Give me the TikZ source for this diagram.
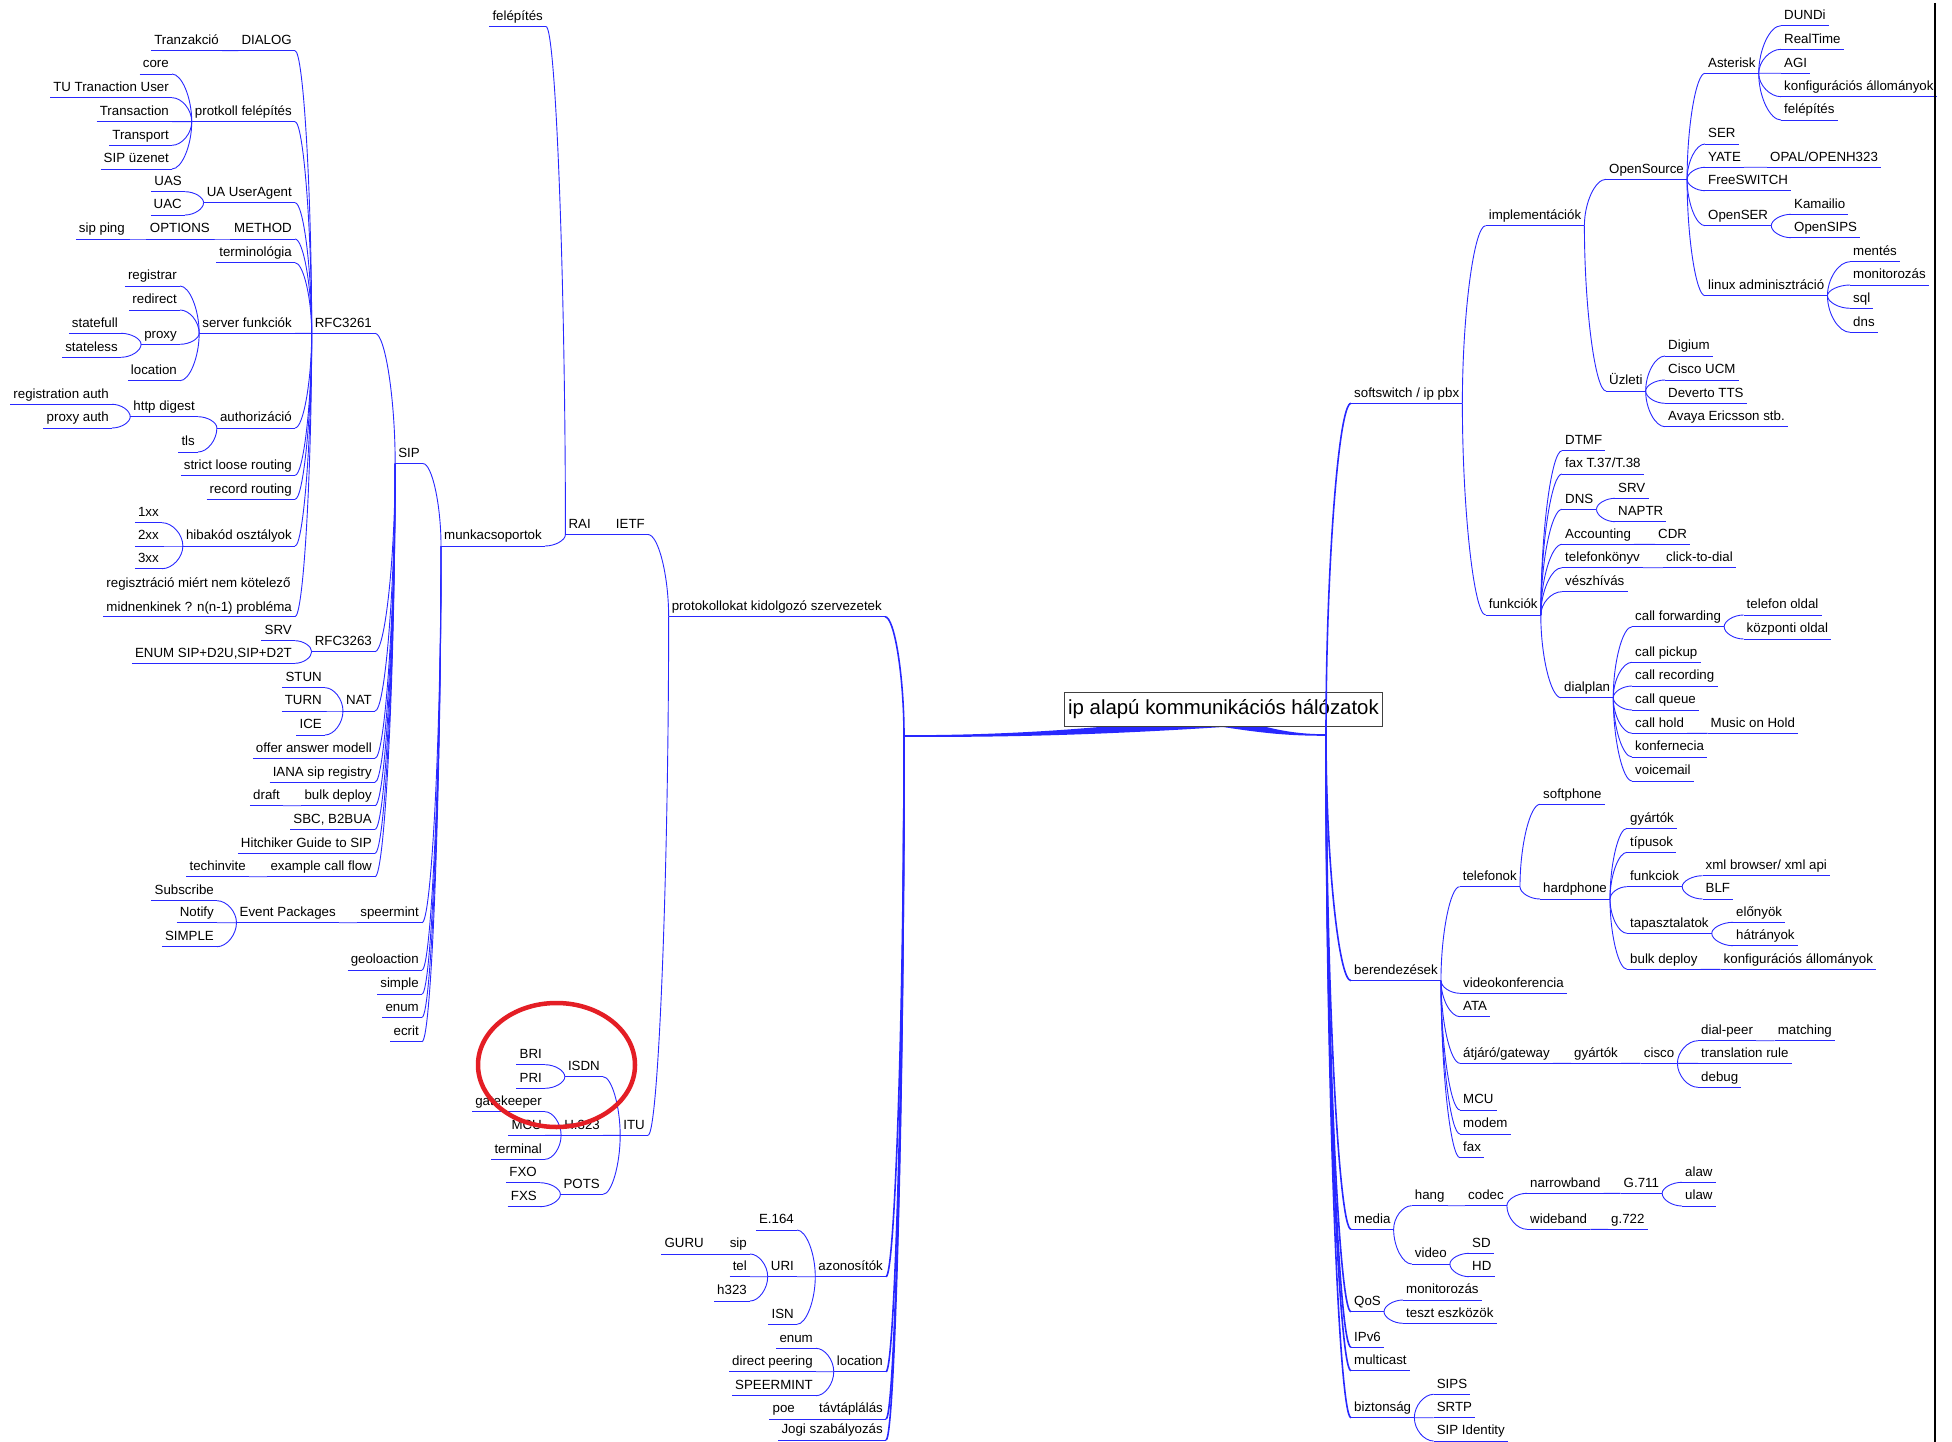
\documentclass[tikz,border=0pt]{standalone}
\usepackage{fontspec}
\setmainfont{Liberation Sans}
\usetikzlibrary{calc}
\definecolor{ebl}{RGB}{40,40,255}
\definecolor{markred}{RGB}{228,30,37}

\begin{document}
\begin{tikzpicture}[x=1pt,y=-1pt,font=\fontsize{13.3}{16}\selectfont,
    uline/.style={draw=ebl,line width=0.9pt},
    lnk/.style={draw=ebl,line width=0.9pt},
    trunk/.style={draw=ebl,line width=1.6pt},
    lab/.style={inner xsep=3pt,inner ysep=2.5pt,
        append after command={(\tikzlastnode.south west) edge[uline] (\tikzlastnode.south east)}},
    ln/.style={lab,anchor=south east,text height=10pt,text depth=3.5pt},
    rn/.style={lab,anchor=south west,text height=10pt,text depth=3.5pt}]

    \useasboundingbox (0,0) rectangle (1952,1442);

    % root edges
    \coordinate (ljn) at (904,736);
    \coordinate (rjn) at (1326,735);
    \fill[ebl] (904,736.8) .. controls (1000,737.5) and (1100,735) .. (1223,727)
        -- (1223,713) .. controls (1100,730) and (1000,735.2) .. (904,735.2) -- cycle;
    \fill[ebl] (1326,735.8) .. controls (1290,735.8) and (1265,733.5) .. (1223,727)
        -- (1223,714) .. controls (1265,728) and (1290,734.2) .. (1326,734.2) -- cycle;
    \node[draw=black!75,fill=white,line width=0.9pt,font=\fontsize{20.4}{24}\selectfont,
        inner xsep=4pt,minimum height=34pt,text height=14.5pt,text depth=4.5pt] (root) at (1223.5,709) {ip alapú kommunikációs hálózatok};

    % left side
    \node[ln] (dlg) at (295,50.7) {DIALOG};
    \node[ln] (trz) at (222,50.7) {Tranzakció};
    \node[ln] (pfe) at (295,121.7) {protkoll felépítés};
    \node[ln] (core) at (172,74) {core};
    \node[ln] (tuu) at (172,97.7) {TU Tranaction User};
    \node[ln] (trn) at (172,121.7) {Transaction};
    \node[ln] (trp) at (172,145.3) {Transport};
    \node[ln] (siu) at (172,169) {SIP üzenet};
    \node[ln] (uag) at (295,202.7) {UA UserAgent};
    \node[ln] (uas) at (185,191.7) {UAS};
    \node[ln] (uac) at (185,215) {UAC};
    \node[ln] (mth) at (295,239) {METHOD};
    \node[ln] (opt) at (213,239) {OPTIONS};
    \node[ln] (spg) at (128,239) {sip ping};
    \node[ln] (trm) at (295,262.7) {terminológia};
    \node[ln] (sfk) at (295,333.3) {server funkciók};
    \node[ln] (rgs) at (180,286) {registrar};
    \node[ln] (rdr) at (180,310) {redirect};
    \node[ln] (prx) at (180,344.3) {proxy};
    \node[ln] (lcn) at (180,380.7) {location};
    \node[ln] (stf) at (121,333.3) {statefull};
    \node[ln] (stl) at (121,357.3) {stateless};
    \node[ln] (ath) at (295,428) {authorizáció};
    \node[ln] (htd) at (198,416.7) {http digest};
    \node[ln] (tls) at (198,452) {tls};
    \node[ln] (rga) at (112,404.3) {registration auth};
    \node[ln] (pra) at (112,428) {proxy auth};
    \node[ln] (slr) at (295,475.3) {strict loose routing};
    \node[ln] (rcr) at (295,499.3) {record routing};
    \node[ln] (hko) at (295,546) {hibakód osztályok};
    \node[ln] (x1) at (162,522.7) {1xx};
    \node[ln] (x2) at (162,546) {2xx};
    \node[ln] (x3) at (162,568.7) {3xx};
    \node[lab,anchor=south east,align=left,font=\fontsize{13.3}{23.3}\selectfont] (rmn) at (295,616.7)
        {regisztráció miért nem kötelező\\midnenkinek ? n(n-1) probléma};
    \node[ln] (rfa) at (375,333.3) {RFC3261};
    \node[ln] (rfb) at (375,651.7) {RFC3263};
    \node[ln] (srva) at (295,640.7) {SRV};
    \node[ln] (enm) at (295,663.3) {ENUM SIP+D2U,SIP+D2T};
    \node[ln] (nat) at (375,711) {NAT};
    \node[ln] (stun) at (325,687.7) {STUN};
    \node[ln] (turn) at (325,711) {TURN};
    \node[ln] (ice) at (325,735) {ICE};
    \node[ln] (oam) at (375,758.3) {offer answer modell};
    \node[ln] (ian) at (375,782.3) {IANA sip registry};
    \node[ln] (bdp) at (375,805.7) {bulk deploy};
    \node[ln] (drf) at (283,805.7) {draft};
    \node[ln] (sbc) at (375,829.3) {SBC, B2BUA};
    \node[ln] (hgs) at (375,853.3) {Hitchiker Guide to SIP};
    \node[ln] (ecf) at (375,876.7) {example call flow};
    \node[ln] (tch) at (249,876.7) {techinvite};
    \node[ln] (sip) at (423,463.6) {SIP};
    \node[ln] (spm) at (422,922.7) {speermint};
    \node[ln] (evp) at (339,922.7) {Event Packages};
    \node[ln] (sbs) at (217,900.7) {Subscribe};
    \node[ln] (ntf) at (217,922.7) {Notify};
    \node[ln] (smp) at (217,946.7) {SIMPLE};
    \node[ln] (geo) at (422,970) {geoloaction};
    \node[ln] (simp) at (422,994) {simple};
    \node[ln] (enu) at (422,1017.3) {enum};
    \node[ln] (ecr) at (422,1041.7) {ecrit};
    \node[ln] (mcs) at (545,546) {munkacsoportok};
    \node[ln] (fel) at (546,26.5) {felépítés};
    \node[ln] (rai) at (594,534.5) {RAI};
    \node[ln] (ietf) at (648,534.5) {IETF};
    \node[ln] (pks) at (885,616.7) {protokollokat kidolgozó szervezetek};
    \node[ln] (itu) at (648,1135.3) {ITU};
    \node[ln] (isdn) at (603,1076.7) {ISDN};
    \node[ln] (hxx) at (603,1135.3) {H.323};
    \node[ln] (pots) at (603,1194.3) {POTS};
    \node[ln] (bri) at (545,1064.7) {BRI};
    \node[ln] (pri) at (545,1088.3) {PRI};
    \node[ln] (gk) at (545,1111.7) {gatekeeper};
    \node[ln] (mcua) at (545,1135.3) {MCU};
    \node[ln] (trml) at (545,1159.3) {terminal};
    \node[ln] (fxo) at (540,1182.7) {FXO};
    \node[ln] (fxs) at (540,1206.7) {FXS};
    \node[ln] (azo) at (886,1276.7) {azonosítók};
    \node[ln] (e164) at (797,1230) {E.164};
    \node[ln] (uri) at (797,1276.7) {URI};
    \node[ln] (isn) at (797,1324.3) {ISN};
    \node[ln] (usip) at (750,1254) {sip};
    \node[ln] (utel) at (750,1276.7) {tel};
    \node[ln] (uhx) at (750,1301) {h323};
    \node[ln] (guru) at (707,1254) {GURU};
    \node[ln] (loca) at (886,1371.7) {location};
    \node[ln] (lenm) at (816,1348.3) {enum};
    \node[ln] (dpe) at (816,1371.7) {direct peering};
    \node[ln] (spmt) at (816,1395.7) {SPEERMINT};
    \node[ln] (tvt) at (886,1419) {távtáplálás};
    \node[ln] (poe) at (798,1419) {poe};
    \node[ln] (jogi) at (886,1440) {Jogi szabályozás};

    % right side
    \node[rn] (ssw) at (1351,403.3) {softswitch / ip pbx};
    \node[rn] (impl) at (1485.6,225.7) {implementációk};
    \node[rn] (osrc) at (1606,179.3) {OpenSource};
    \node[rn] (ast) at (1705,73.3) {Asterisk};
    \node[rn] (dundi) at (1781,25.7) {DUNDi};
    \node[rn] (rtm) at (1781,49.3) {RealTime};
    \node[rn] (agi) at (1781,73.3) {AGI};
    \node[rn] (kfa) at (1781,96.7) {konfigurációs állományok};
    \node[rn] (afel) at (1781,120) {felépítés};
    \node[rn] (ser) at (1705,144) {SER};
    \node[rn] (yate) at (1705,167.3) {YATE};
    \node[rn] (opal) at (1767,167.3) {OPAL/OPENH323};
    \node[rn] (fsw) at (1705,190.7) {FreeSWITCH};
    \node[rn] (oser) at (1705,225.7) {OpenSER};
    \node[rn] (kam) at (1791,214.3) {Kamailio};
    \node[rn] (osip) at (1791,237.7) {OpenSIPS};
    \node[rn] (lnx) at (1705,295.7) {linux adminisztráció};
    \node[rn] (ment) at (1850,261.7) {mentés};
    \node[rn] (mon) at (1850,285) {monitorozás};
    \node[rn] (sql) at (1850,308.3) {sql};
    \node[rn] (dns) at (1850,332.3) {dns};
    \node[rn] (uzl) at (1606,391) {Üzleti};
    \node[rn] (dig) at (1665,356) {Digium};
    \node[rn] (cucm) at (1665,380) {Cisco UCM};
    \node[rn] (dtts) at (1665,403.3) {Deverto TTS};
    \node[rn] (avy) at (1665,426.7) {Avaya Ericsson stb.};
    \node[rn] (fnk) at (1485.6,615) {funkciók};
    \node[rn] (dtmf) at (1562,450.7) {DTMF};
    \node[rn] (fax) at (1562,474) {fax T.37/T.38};
    \node[rn] (dnsb) at (1562,509.3) {DNS};
    \node[rn] (srvb) at (1615,498.3) {SRV};
    \node[rn] (naptr) at (1615,521.7) {NAPTR};
    \node[rn] (acc) at (1562,544.3) {Accounting};
    \node[rn] (cdr) at (1655,544.3) {CDR};
    \node[rn] (tkv) at (1562,567.7) {telefonkönyv};
    \node[rn] (ctd) at (1663,567.7) {click-to-dial};
    \node[rn] (vsz) at (1562,591.7) {vészhívás};
    \node[rn] (dpl) at (1561,697.7) {dialplan};
    \node[rn] (cfw) at (1632,626.7) {call forwarding};
    \node[rn] (tol) at (1743.5,615) {telefon oldal};
    \node[rn] (kol) at (1743.5,639) {központi oldal};
    \node[rn] (cpk) at (1632,662.3) {call pickup};
    \node[rn] (crc) at (1632,686) {call recording};
    \node[rn] (cqu) at (1632,710) {call queue};
    \node[rn] (chd) at (1632,733.3) {call hold};
    \node[rn] (moh) at (1707.5,733.3) {Music on Hold};
    \node[rn] (knf) at (1632,757) {konfernecia};
    \node[rn] (vml) at (1632,781) {voicemail};
    \node[rn] (ber) at (1351,980.7) {berendezések};
    \node[rn] (tfn) at (1459.6,886.7) {telefonok};
    \node[rn] (sfp) at (1540,804.3) {softphone};
    \node[rn] (hdp) at (1540,899) {hardphone};
    \node[rn] (gyt) at (1627,828.3) {gyártók};
    \node[rn] (tip) at (1627,852.3) {típusok};
    \node[rn] (fkc) at (1627,886.7) {funkciok};
    \node[rn] (xml) at (1702.5,875.7) {xml browser/ xml api};
    \node[rn] (blf) at (1702.5,899) {BLF};
    \node[rn] (tap) at (1627,933.3) {tapasztalatok};
    \node[rn] (elo) at (1733,922.3) {előnyök};
    \node[rn] (hat) at (1733,945.7) {hátrányok};
    \node[rn] (bdpb) at (1627,969.3) {bulk deploy};
    \node[rn] (kfb) at (1720.5,969.3) {konfigurációs állományok};
    \node[rn] (vcf) at (1460,993.3) {videokonferencia};
    \node[rn] (ata) at (1460,1016.7) {ATA};
    \node[rn] (gw) at (1460,1063.3) {átjáró/gateway};
    \node[rn] (gytb) at (1571,1063.3) {gyártók};
    \node[rn] (csc) at (1640.7,1063.3) {cisco};
    \node[rn] (dpr) at (1698,1040.7) {dial-peer};
    \node[rn] (mtc) at (1774.7,1040.7) {matching};
    \node[rn] (trl) at (1698,1063.3) {translation rule};
    \node[rn] (dbg) at (1698,1087.3) {debug};
    \node[rn] (mcub) at (1460,1110) {MCU};
    \node[rn] (mdm) at (1460,1134) {modem};
    \node[rn] (faxb) at (1460,1157.7) {fax};
    \node[rn] (med) at (1351,1229.3) {media};
    \node[rn] (hang) at (1411.7,1205.7) {hang};
    \node[rn] (cdc) at (1465,1205.7) {codec};
    \node[rn] (nb) at (1527,1193.3) {narrowband};
    \node[rn] (g711) at (1620.5,1193.3) {G.711};
    \node[rn] (alaw) at (1682,1182.3) {alaw};
    \node[rn] (ulaw) at (1682,1206) {ulaw};
    \node[rn] (wb) at (1527,1229.3) {wideband};
    \node[rn] (g722) at (1608,1229.3) {g.722};
    \node[rn] (vid) at (1411.7,1264) {video};
    \node[rn] (sd) at (1469,1253.3) {SD};
    \node[rn] (hd) at (1469,1276.7) {HD};
    \node[rn] (qos) at (1351,1311.7) {QoS};
    \node[rn] (mnt) at (1403,1300) {monitorozás};
    \node[rn] (tsz) at (1403,1323.3) {teszt eszközök};
    \node[rn] (ipv) at (1351,1347.3) {IPv6};
    \node[rn] (mct) at (1351,1370.7) {multicast};
    \node[rn] (bzt) at (1351,1417.7) {biztonság};
    \node[rn] (sips) at (1433.6,1394.3) {SIPS};
    \node[rn] (srtp) at (1433.6,1417.7) {SRTP};
    \node[rn] (sipi) at (1433.6,1441) {SIP Identity};

    % links, left side: child / parent
    \foreach \c/\p in {trz/dlg, core/pfe, tuu/pfe, trn/pfe, trp/pfe, siu/pfe, uas/uag, uac/uag,
        opt/mth, spg/opt, rgs/sfk, rdr/sfk, prx/sfk, lcn/sfk, stf/prx, stl/prx, htd/ath, tls/ath,
        rga/htd, pra/htd, x1/hko, x2/hko, x3/hko, dlg/rfa, pfe/rfa, uag/rfa, mth/rfa, trm/rfa,
        sfk/rfa, ath/rfa, slr/rfa, rcr/rfa, hko/rfa, rmn/rfa, rfa/sip, rfb/sip, srva/rfb, enm/rfb,
        nat/sip, stun/nat, turn/nat, ice/nat, oam/sip, ian/sip, bdp/sip, drf/bdp, sbc/sip, hgs/sip,
        ecf/sip, tch/ecf, sip/mcs, spm/mcs, evp/spm, sbs/evp, ntf/evp, smp/evp, geo/mcs, simp/mcs,
        enu/mcs, ecr/mcs, mcs/rai, fel/rai, rai/ietf, ietf/pks, itu/pks, isdn/itu, hxx/itu, pots/itu,
        bri/isdn, pri/isdn, gk/hxx, mcua/hxx, trml/hxx, fxo/pots, fxs/pots, e164/azo, uri/azo,
        isn/azo, usip/uri, utel/uri, uhx/uri, guru/usip, lenm/loca, dpe/loca, spmt/loca, poe/tvt} {
        \coordinate (k) at (\c.south east -| \p.south west);
        \draw[lnk] (\c.south east) .. controls ($(\c.south east)!0.5!(k)$) and ($(\p.south west)!0.5!(k)$) .. (\p.south west);
    }
    \foreach \c in {pks, azo, loca, tvt, jogi} {
        \coordinate (k) at (\c.south east -| ljn);
        \draw[trunk] (\c.south east) .. controls ($(\c.south east)!0.5!(k)$) and ($(ljn)!0.5!(k)$) .. (ljn);
    }

    % links, right side: child / parent
    \foreach \c/\p in {dundi/ast, rtm/ast, agi/ast, kfa/ast, afel/ast, ast/osrc, ser/osrc, yate/osrc,
        opal/yate, fsw/osrc, oser/osrc, kam/oser, osip/oser, lnx/osrc, ment/lnx, mon/lnx, sql/lnx,
        dns/lnx, osrc/impl, uzl/impl, dig/uzl, cucm/uzl, dtts/uzl, avy/uzl, impl/ssw, fnk/ssw,
        dtmf/fnk, fax/fnk, dnsb/fnk, srvb/dnsb, naptr/dnsb, acc/fnk, cdr/acc, tkv/fnk, ctd/tkv,
        vsz/fnk, dpl/fnk, cfw/dpl, tol/cfw, kol/cfw, cpk/dpl, crc/dpl, cqu/dpl, chd/dpl, moh/chd,
        knf/dpl, vml/dpl, tfn/ber, sfp/tfn, hdp/tfn, gyt/hdp, tip/hdp, fkc/hdp, xml/fkc, blf/fkc,
        tap/hdp, elo/tap, hat/tap, bdpb/hdp, kfb/bdpb, vcf/ber, ata/ber, gw/ber, gytb/gw, csc/gytb,
        dpr/csc, mtc/dpr, trl/csc, dbg/csc, mcub/ber, mdm/ber, faxb/ber, hang/med, cdc/hang, nb/cdc,
        g711/nb, alaw/g711, ulaw/g711, wb/cdc, g722/wb, vid/med, sd/vid, hd/vid, mnt/qos, tsz/qos,
        sips/bzt, srtp/bzt, sipi/bzt} {
        \coordinate (k) at (\c.south west -| \p.south east);
        \draw[lnk] (\c.south west) .. controls ($(\c.south west)!0.5!(k)$) and ($(\p.south east)!0.5!(k)$) .. (\p.south east);
    }
    \foreach \c in {ssw, ber, med, qos, ipv, mct, bzt} {
        \coordinate (k) at (\c.south west -| rjn);
        \draw[trunk] (\c.south west) .. controls ($(\c.south west)!0.5!(k)$) and ($(rjn)!0.5!(k)$) .. (rjn);
    }

    % marking
    \draw[draw=markred,line width=4.5pt] (556.5,1065) ellipse [x radius=78.5pt,y radius=62pt];
    \draw[line width=2pt] (1935,3) -- (1935,1442);
\end{tikzpicture}
\end{document}
